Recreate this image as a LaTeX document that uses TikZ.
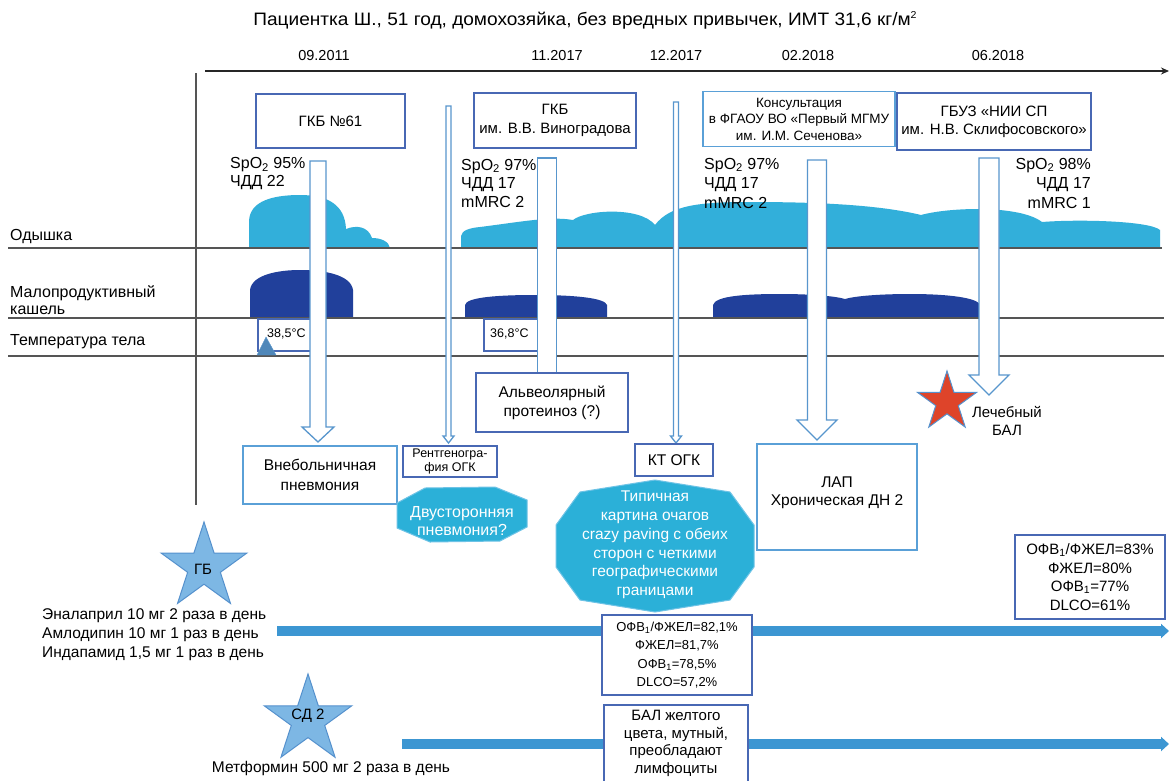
\documentclass[tikz,border=0pt]{standalone}
\usepackage{fontspec}
\setmainfont{Liberation Sans}
\usetikzlibrary{shapes.geometric,arrows.meta}
\definecolor{boxblue}{RGB}{72,104,180}
\definecolor{boxlight}{RGB}{90,160,215}
\definecolor{arrowblue}{RGB}{88,150,205}
\definecolor{cloudc}{RGB}{50,175,218}
\definecolor{coughc}{RGB}{33,64,155}
\definecolor{linegray}{RGB}{85,85,85}
\definecolor{octfill}{RGB}{43,176,216}
\definecolor{octedge}{RGB}{110,195,230}
\definecolor{thickblue}{RGB}{60,150,210}
\definecolor{starfill}{RGB}{125,183,228}
\definecolor{stardraw}{RGB}{85,145,205}
\definecolor{redstar}{RGB}{222,68,42}
\newcommand\fs[2]{\fontsize{#1}{#2}\selectfont}
% name, cx, top, headtop, tip, shaft half width, head half width
\newcommand\hollowarrow[7]{%
  \coordinate (#1-top) at (#2,#3);
  \coordinate (#1-tip) at (#2,#5);
  \draw[harrow] (#2-#6,#3) -- (#2+#6,#3) -- (#2+#6,#4) -- (#2+#7,#4) -- (#1-tip)
     -- (#2-#7,#4) -- (#2-#6,#4) -- cycle;}
\begin{document}
\begin{tikzpicture}[x=1pt,y=-1pt,
  box/.style={draw=boxblue,line width=1.2pt,fill=white,inner sep=0pt,align=center},
  lbox/.style={box,draw=boxlight},
  harrow/.style={draw=arrowblue,line width=1.3pt,fill=white,line join=miter},
  hline/.style={draw=linegray,line width=1.4pt},
  txt/.style={inner sep=0pt,align=center},
  oct/.style={fill=octfill,draw=octedge,line width=1pt},
  bstar/.style={star,star points=5,star point ratio=2.618,inner sep=0pt,fill=starfill,draw=stardraw,line width=1pt},
  thickarr/.style={draw=thickblue,line width=10pt,-{Triangle[length=8pt,width=14pt]}}
]
\useasboundingbox (0,0) rectangle (1169,780);
\fill[white] (0,0) rectangle (1169,780);

% title and dates
\node[txt,font=\fs{18}{20}] (title) at (585,20) {\scalebox{1.06}[1]{Пациентка Ш., 51 год, домохозяйка, без вредных привычек, ИМТ 31,6 кг/м\raisebox{0.75ex}{\fs{10}{10}2}}};
\node[txt,font=\fs{14.5}{16}] (d1) at (324,56) {09.2011};
\node[txt,font=\fs{14.5}{16}] (d2) at (557,56) {11.2017};
\node[txt,font=\fs{14.5}{16}] (d3) at (676,56) {12.2017};
\node[txt,font=\fs{14.5}{16}] (d4) at (808,56) {02.2018};
\node[txt,font=\fs{14.5}{16}] (d5) at (998,56) {06.2018};

% clouds (Одышка)
\fill[cloudc] (249,248) -- (249,222) .. controls (249,200) and (275,195) .. (300,195)
  .. controls (328,195) and (345,205) .. (346,229) .. controls (356,225) and (368,226) .. (372,238)
  .. controls (382,238) and (389,242) .. (390,248) -- cycle;
\fill[cloudc] (461,248) -- (461,236) .. controls (462,230) and (470,228) .. (480,227)
  .. controls (520,222) and (550,216) .. (573,220)
  .. controls (585,210) and (640,206) .. (655,225)
  .. controls (670,205) and (700,202) .. (750,202)
  .. controls (820,202) and (880,205) .. (921,215)
  .. controls (950,207) and (1020,205) .. (1042,222)
  .. controls (1080,219) and (1150,221) .. (1160,230) -- (1160,248) -- cycle;

% cough blobs
\fill[coughc] (250,318) -- (250,290) .. controls (252,274) and (280,270) .. (300,270)
  .. controls (325,270) and (351,275) .. (353,290) -- (353,318) -- cycle;
\fill[coughc] (465,318) -- (465,305) .. controls (466,297) and (500,295) .. (535,295)
  .. controls (575,295) and (605,298) .. (607,305) -- (607,318) -- cycle;
\fill[coughc] (713,318) -- (713,305) .. controls (715,296) and (745,294) .. (780,294)
  .. controls (810,294) and (835,296) .. (845,299) .. controls (855,296) and (880,294) .. (910,294)
  .. controls (950,294) and (978,298) .. (980,305) -- (980,318) -- cycle;

% horizontal lines
\coordinate (l1a) at (8,248); \coordinate (l1b) at (1162,248);
\coordinate (l2a) at (8,318); \coordinate (l2b) at (1164,318);
\coordinate (l3a) at (8,356); \coordinate (l3b) at (1164,356);
\draw[hline] (l1a) -- (l1b);
\draw[hline] (l2a) -- (l2b);
\draw[hline] (l3a) -- (l3b);
% axis
\coordinate (ax0) at (196,73); \coordinate (ax1) at (196,505);
\draw[hline] (ax0) -- (ax1);
\coordinate (t0) at (205,71); \coordinate (t1) at (1169,71);
\draw[draw=black!85,line width=1.4pt,-{Stealth[length=8pt,width=7pt]}] (t0) -- (t1);

% row labels
\node[txt,anchor=west,font=\fs{16}{18}] (ody) at (10,237) {Одышка};
\node[txt,anchor=west,align=left,font=\fs{16}{17.5}] (kash) at (10,300) {Малопродуктивный\\кашель};
\node[txt,anchor=west,font=\fs{16}{18}] (temp) at (10,342) {Температура тела};

% temperature boxes and triangle
\draw[draw=boxblue,line width=1.2pt,fill=white] (258,319) rectangle (318,351);
\draw[draw=boxblue,line width=1.2pt,fill=white] (484,319) rectangle (545,351);
\node[txt,anchor=west,font=\fs{12.5}{14}] (t385) at (267,334) {38,5°C};
\node[txt,anchor=west,font=\fs{12.5}{14}] (t368) at (490,334) {36,8°C};
\fill[arrowblue!90!black,draw=arrowblue] (257,355) -- (266,337) -- (276,355) -- cycle;

% thick medication arrows
\coordinate (gbs) at (277,631); \coordinate (gbe) at (1169,631);
\coordinate (sds) at (402,744); \coordinate (sde) at (1169,744);
\draw[thickarr] (gbs) -- (gbe);
\draw[thickarr] (sds) -- (sde);

% hollow arrows
\hollowarrow{a1}{318}{161}{427}{442}{8}{16}
\draw[harrow] (537.5,158) rectangle (556.5,374);
\hollowarrow{a3}{817}{160}{420}{440}{9.5}{20}
\hollowarrow{a4}{989}{158}{375}{395}{10}{20}
\hollowarrow{n1}{448.5}{106}{436}{443}{2.5}{5.5}
\hollowarrow{n2}{676}{102}{436}{443}{2.5}{5.5}

% top boxes
\node[box,minimum width=149pt,minimum height=54pt,font=\fs{15}{18}] (b61) at (330.5,121) {ГКБ №61};
\node[box,minimum width=162pt,minimum height=55pt,font=\fs{15}{19}] (bvin) at (555,120.5) {ГКБ\\им. В.В. Виноградова};
\node[lbox,minimum width=192pt,minimum height=55pt,font=\fs{13.5}{16.5}] (bkons) at (799,119) {Консультация\\в ФГАОУ ВО «Первый МГМУ\\им. И.М. Сеченова»};
\node[box,minimum width=194pt,minimum height=57pt,font=\fs{15}{18}] (bgbuz) at (994,121.5) {ГБУЗ «НИИ СП\\им. Н.В. Склифосовского»};

% vital signs
\node[txt,anchor=west,align=left,font=\fs{16}{18}] (s1) at (230,174) {SpO\textsubscript{2} 95\%\\ЧДД 22};
\node[txt,anchor=west,align=left,font=\fs{16}{18.5}] (s2) at (461,183) {SpO\textsubscript{2} 97\%\\ЧДД 17\\mMRC 2};
\node[txt,anchor=west,align=left,font=\fs{16}{19.5}] (s3) at (704,183) {SpO\textsubscript{2} 97\%\\ЧДД 17\\mMRC 2};
\node[txt,anchor=east,align=right,font=\fs{16}{19.5}] (s4) at (1091,183) {SpO\textsubscript{2} 98\%\\ЧДД 17\\mMRC 1};

% lower boxes
\node[box,minimum width=152pt,minimum height=59pt,font=\fs{15.5}{19}] (balv) at (552,402.5) {Альвеолярный\\протеиноз (?)};
\node[lbox,minimum width=154pt,minimum height=58pt,font=\fs{15.5}{20}] (bvne) at (320,475) {Внебольничная\\пневмония};
\node[box,minimum width=94pt,minimum height=31pt,font=\fs{12.5}{14}] (brent) at (450,461.5) {Рентгеногра-\\фия ОГК};
\node[box,minimum width=78pt,minimum height=32pt,font=\fs{15.5}{18}] (bkt) at (674,460) {КТ ОГК};
\node[lbox,minimum width=160pt,minimum height=106pt] (blap) at (837,497) {};
\node[txt,font=\fs{15.5}{18.5}] (lap) at (837,493) {ЛАП\\Хроническая ДН 2};

% octagons
\fill[oct] (397,503) -- (425,488) -- (495,487) -- (527,500) -- (527,527) -- (500,541) -- (430,542) -- (397,528) -- cycle;
\node[txt,text=white,font=\fs{16}{18}] (o1) at (462,521) {Двусторонняя\\пневмония?};
\fill[oct] (556,525) -- (580,492) -- (655,480) -- (730,492) -- (754,525) -- (754,567) -- (730,600) -- (655,612) -- (580,600) -- (556,567) -- cycle;
\node[txt,text=white,font=\fs{15.5}{18.8}] (o2) at (655,545) {Типичная\\картина очагов\\crazy paving с обеих\\сторон с четкими\\географическими\\границами};

% PFT boxes
\node[box,minimum width=150pt,minimum height=84pt,font=\fs{15}{18.7}] (pft2) at (1090,577) {ОФВ\textsubscript{1}/ФЖЕЛ=83\%\\ФЖЕЛ=80\%\\ОФВ\textsubscript{1}=77\%\\DLCO=61\%};
\node[box,minimum width=150pt,minimum height=80pt,font=\fs{13}{18.5}] (pft1) at (677,655) {ОФВ\textsubscript{1}/ФЖЕЛ=82,1\%\\ФЖЕЛ=81,7\%\\ОФВ\textsubscript{1}=78,5\%\\DLCO=57,2\%};
\draw[draw=boxblue,line width=1.2pt,fill=white] (604,705) rectangle (748,800);
\node[txt,font=\fs{15}{17.7}] (bal) at (676,743.5) {БАЛ желтого\\цвета, мутный,\\преобладают\\лимфоциты};

% stars
\node[bstar,minimum size=90pt] (gb) at (204,567) {};
\node[txt,font=\fs{15}{18}] (gbt) at (203,569) {ГБ};
\node[bstar,minimum size=92pt] (sd) at (308,720) {};
\node[txt,font=\fs{15}{18}] (sdt) at (308,716) {СД 2};
\node[bstar,minimum size=62pt,fill=redstar,draw=stardraw] (rs) at (947,402) {};
\node[txt,font=\fs{15}{18}] (lbal) at (1007,421) {Лечебный\\БАЛ};

% medications
\node[txt,anchor=west,align=left,font=\fs{15.5}{19}] (meds) at (42,635) {Эналаприл 10 мг 2 раза в день\\Амлодипин 10 мг 1 раз в день\\Индапамид 1,5 мг 1 раз в день};
\node[txt,font=\fs{15.5}{18}] (metf) at (331,768) {Метформин 500 мг 2 раза в день};
\end{tikzpicture}
\end{document}
